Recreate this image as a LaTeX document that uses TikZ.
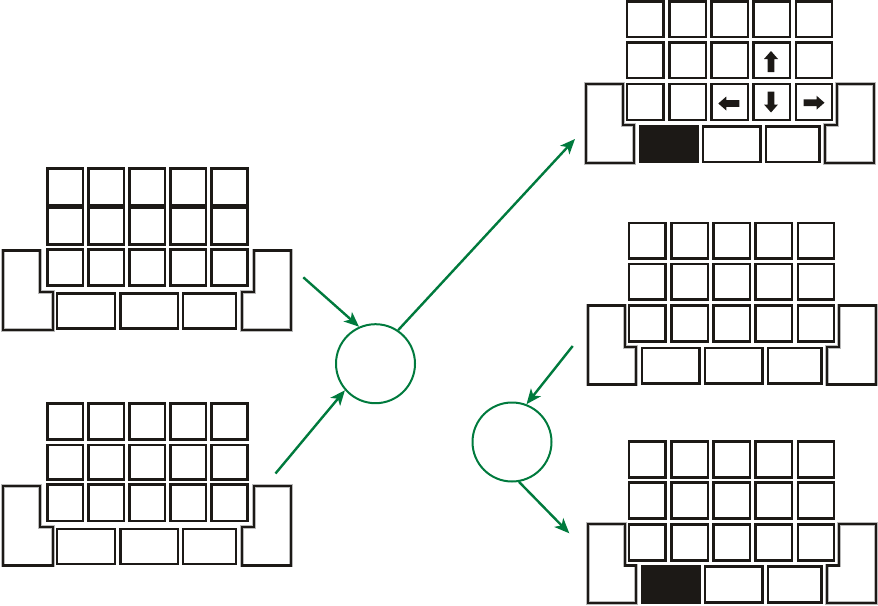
\documentclass[tikz,border=0pt]{standalone}
\usetikzlibrary{arrows.meta}
\definecolor{keyc}{RGB}{28,25,22}
\definecolor{grn}{RGB}{0,122,61}
\tikzset{
  keyst/.style={draw=keyc, line width=2.7},
  lst/.style={draw=keyc, line width=2.2, line join=miter, preaction={draw=gray!55, line width=3.8}},
  circ/.style={circle, draw=grn, line width=2, minimum size=79pt, inner sep=0pt},
  garr/.style={draw=grn, line width=2.4, -{Stealth[length=15pt,width=12.5pt,inset=4pt]}},
}
\def\colsL{46/84.3,87.3/125.3,128.3/166.3,169.3/207.3,210.3/248.7}
\def\colsR{627.7/667,670.3/709.3,712.3/751.3,754.3/793.3,796.7/835.3}
\newcommand\kbleft[1]{%
  \foreach \ya/\yb in {#1} {\foreach \xa/\xb in \colsL {\draw[keyst] ({\xa+1.3},{\ya+1.3}) rectangle ({\xb-1.3},{\yb-1.3});}}
  \draw[lst] (2.8,250.5) -- (40.2,250.5) -- (40.2,291.7) -- (52.8,291.7) -- (52.8,330.2) -- (2.8,330.2) -- cycle;
  \draw[lst] (241.9,291.7) -- (254,291.7) -- (254,250.5) -- (291.1,250.5) -- (291.1,330.2) -- (241.9,330.2) -- cycle;
  \foreach \xa/\xb in {55.7/116.3,119/179.3,181.7/237.3} {\draw[keyst] ({\xa+1.3},{292.3+1.3}) rectangle ({\xb-1.3},{330-1.3});}
}
\newcommand\kbright[1]{%
  \foreach \ya/\yb in {221.7/260,262.7/301,304.3/343} {\foreach \xa/\xb in \colsR {\draw[keyst] ({\xa+1.3},{\ya+1.3}) rectangle ({\xb-1.3},{\yb-1.3});}}
  \draw[lst] (587.9,305.5) -- (625,305.5) -- (625,346.7) -- (636.1,346.7) -- (636.1,384.5) -- (587.9,384.5) -- cycle;
  \draw[lst] (827.2,346.7) -- (839.3,346.7) -- (839.3,305.5) -- (876.1,305.5) -- (876.1,384.5) -- (827.2,384.5) -- cycle;
  \draw[keyst, fill=#1] ({640.7+1.3},{346.7+1.3}) rectangle ({701-1.3},{385-1.3});
  \foreach \xa/\xb in {703.7/764,766.7/822.7} {\draw[keyst] ({\xa+1.3},{346.7+1.3}) rectangle ({\xb-1.3},{385-1.3});}
}
\newcommand\blockarr[2]{%
  \fill[keyc, shift={(#1)}, rotate=#2] (-10.5,-3.3) -- (2.5,-3.3) -- (2.5,-7) -- (10.5,0) -- (2.5,7) -- (2.5,3.3) -- (-10.5,3.3) -- cycle;
}
\begin{document}
\begin{tikzpicture}[x=1pt, y=-1pt]
\useasboundingbox (0,0) rectangle (878,605);
% left keyboards
\kbleft{167.3/208.5,204.5/246,248.3/286.7}
\begin{scope}[shift={(0,235.3)}]
  \kbleft{167/205.7,208.4/245.7,248/287}
\end{scope}
% right keyboards
\begin{scope}[shift={(-2,-221.6)}]
  \kbright{keyc}
\end{scope}
\kbright{white}
\begin{scope}[shift={(0,218.7)}]
  \kbright{keyc}
\end{scope}
% direction arrows on top-right keyboard
\blockarr{771,61.5}{90}
\blockarr{728.8,103.5}{180}
\blockarr{771,102}{270}
\blockarr{814,102.7}{0}
% circles and connectors
\node[circ] (c1) at (375.5,363.7) {};
\node[circ] (c2) at (512,442) {};
\coordinate (a1) at (303.3,277.3);
\coordinate (a2) at (275.5,473.5);
\coordinate (a3) at (575,139);
\coordinate (a4) at (572.7,346);
\coordinate (a5) at (569.3,533.3);
\draw[garr] (a1) -- (c1.114);
\draw[garr] (a2) -- (c1.221);
\draw[garr] (c1.56) -- (a3);
\draw[garr] (a4) -- (c2.69);
\draw[garr] (c2.280) -- (a5);
\end{tikzpicture}
\end{document}
